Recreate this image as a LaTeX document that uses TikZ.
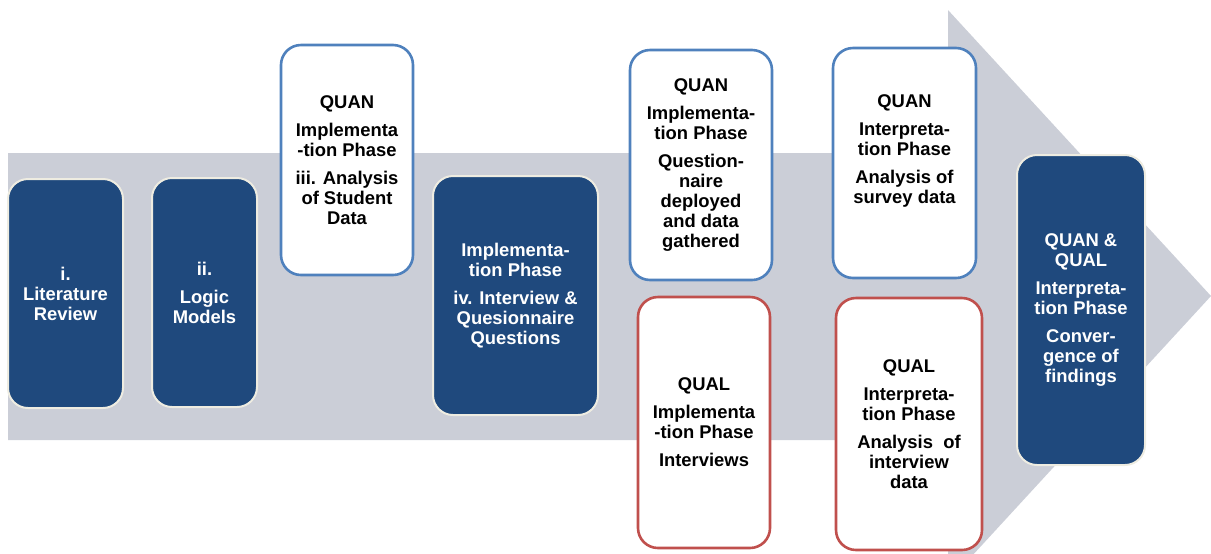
\documentclass[tikz,border=0pt]{standalone}
\usepackage{fontspec}
\setmainfont{Liberation Sans}
\usetikzlibrary{positioning}
\definecolor{navy}{HTML}{1F497D}
\definecolor{quanblue}{HTML}{4F81BD}
\definecolor{qualred}{HTML}{C0504D}
\definecolor{arrowgrey}{HTML}{CBCED7}
\definecolor{rim}{HTML}{EEECE1}
\tikzset{
	phase/.style={rectangle,rounded corners=10pt,align=center,inner sep=0pt,font=\fontsize{9.2}{10}\selectfont\bfseries},
	dark/.style={phase,fill=navy,draw=rim,line width=1pt,text=white},
	quan/.style={phase,fill=white,draw=quanblue,line width=1.3pt},
	qual/.style={phase,fill=white,draw=qualred,line width=1.3pt},
	words/.style={align=center,inner sep=0pt,font=\fontsize{9.2}{10}\selectfont\bfseries},
	flow/.style={fill=arrowgrey}
}

\begin{document}
\begin{tikzpicture}[x=0.5pt,y=-0.5pt]
            \useasboundingbox (0,0) rectangle (1211,553);
            % big arrow behind
            \fill[flow] (8,153) -- (948,153) -- (948,10) -- (1211,296) -- (948,582) -- (948,440) -- (8,440) -- cycle;
            \node[dark,minimum width=57.5pt,minimum height=114.5pt] (lit) at (65.5,293.5) {i.\\Literature\\Review};
            \node[dark,minimum width=52.5pt,minimum height=114.5pt] (logic) at (204.5,292.5) {ii.\\[4pt]Logic\\Models};
            \node[quan,minimum width=66pt,minimum height=115pt] (stud) at (347,160) {QUAN\\[4pt]Implementa\\-tion Phase\\[4pt]iii. Analysis\\of Student\\Data};
            \node[dark,minimum width=82.5pt,minimum height=119.5pt] (intq) at (515.5,295.5) {Implementa-\\tion Phase\\[4pt]iv. Interview \&\\Quesionnaire\\Questions};
            \node[quan,minimum width=71pt,minimum height=115pt] (quest) at (701,165) {QUAN\\[4pt]Implementa-\\tion Phase\\[4pt]Question-\\naire\\deployed\\and data\\gathered};
            \node[qual,minimum width=66pt,minimum height=125.5pt] (intv) at (704,422.5) {QUAL\\[4pt]Implementa\\-tion Phase\\[4pt]Interviews};
            \node[quan,minimum width=71.5pt,minimum height=115pt] (surv) at (904.5,163) {};
            \node[words] (survtxt) at ([yshift=6pt]surv.center) {QUAN\\[4pt]Interpreta-\\tion Phase\\[4pt]Analysis of\\survey data};
            \node[qual,minimum width=73pt,minimum height=126pt] (ivdata) at (909,424) {QUAL\\[4pt]Interpreta-\\tion Phase\\[4pt]Analysis~~of\\interview\\data};
            \node[dark,minimum width=64pt,minimum height=155pt] (conv) at (1081,310) {QUAN \&\\QUAL\\[4pt]Interpreta-\\tion Phase\\[4pt]Conver-\\gence of\\findings};
\end{tikzpicture}
\end{document}
